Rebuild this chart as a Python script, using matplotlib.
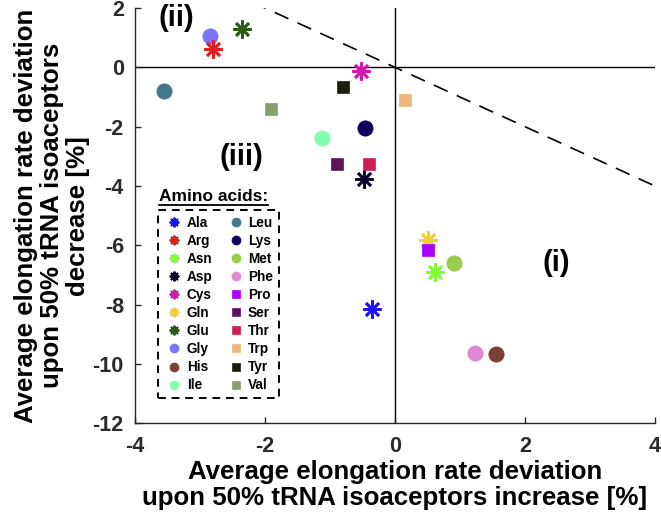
import matplotlib.pyplot as plt
from matplotlib.lines import Line2D

plt.rcParams['font.family'] = ['Liberation Sans', 'DejaVu Sans']
plt.rcParams['font.weight'] = 'bold'
plt.rcParams['axes.unicode_minus'] = False

# -----------------------------
# Data
# -----------------------------
amino = ["Ala", "Arg", "Asn", "Asp", "Cys", "Gln", "Glu", "Gly", "His", "Ile",
         "Leu", "Lys", "Met", "Phe", "Pro", "Ser", "Thr", "Trp", "Tyr", "Val"]
increase_dev = [-0.36, -2.80, 0.62, -0.48, -0.52, 0.50, -2.36, -2.85, 1.55, -1.12,
                -3.56, -0.46, 0.90, 1.23, 0.50, -0.90, -0.40, 0.16, -0.80, -1.90]
decrease_dev = [-8.13, 0.63, -6.89, -3.77, -0.13, -5.82, 1.28, 1.05, -9.66, -2.37,
                -0.80, -2.03, -6.59, -9.61, -6.14, -3.24, -3.24, -1.11, -0.67, -1.41]

xticks = [-4, -2, 0, 2, 4]
yticks = [2, 0, -2, -4, -6, -8, -10, -12]

# -----------------------------
# Styles
# -----------------------------
shapes = ["ast"] * 7 + ["o"] * 7 + ["s"] * 6
colors = ["#1e14f5", "#e01e1e", "#80ff30", "#0a0a28", "#d21aa8", "#f0d030", "#2d5a14",
          "#7b72ff", "#7a4035", "#80ffb0", "#43788a", "#12005e", "#99cc4c", "#dd88d2",
          "#aa00ff", "#5a1558", "#cc2055", "#eab87a", "#1e1e10", "#88a070"]

ASTERISK = (8, 2, 0)


def marker_kw(shape, color, small=False):
    if shape == "ast":
        return dict(marker=ASTERISK, markersize=7 if small else 13, mec=color,
                    mew=1.4 if small else 1.9, color=color)
    if shape == "o":
        return dict(marker="o", markersize=6.5 if small else 11, mfc=color, mec=color,
                    mew=0.5, color=color)
    return dict(marker="s", markersize=5.2 if small else 9, mfc=color, mec=color,
                mew=0.5, color=color)


fig = plt.figure(figsize=(6.61, 5.13), dpi=100)
ax = fig.add_axes([0.2042, 0.1745, 0.7868, 0.8099])

# reference lines
ax.axhline(0, color="black", lw=1, zorder=1)
ax.axvline(0, color="black", lw=1, zorder=1)
ax.plot([-2.2, 4], [2.2, -4], color="black", lw=1.2, dashes=(9, 6), zorder=1)

order_z = {"o": 3, "ast": 4, "s": 5}
for name, x, y, sh, c in zip(amino, increase_dev, decrease_dev, shapes, colors):
    ax.plot([x], [y], linestyle="none", zorder=order_z[sh], **marker_kw(sh, c))

ax.set_xlim(-4, 4)
ax.set_ylim(-12, 2)
ax.set_xticks(xticks)
ax.set_yticks(yticks)
ax.spines["top"].set_visible(False)
ax.spines["right"].set_visible(False)
for s in ["left", "bottom"]:
    ax.spines[s].set_color("#262626")
    ax.spines[s].set_linewidth(1)
ax.tick_params(direction="in", length=4, width=1, colors="#262626", labelsize=15.5,
               labelcolor="#2a2a2a")
ax.tick_params(axis="x", pad=9)
ax.tick_params(axis="y", pad=8)
for lab in ax.get_xticklabels() + ax.get_yticklabels():
    lab.set_fontweight("bold")

ax.set_xlabel("Average elongation rate deviation\nupon 50% tRNA isoaceptors increase [%]",
              fontsize=18.6, fontweight="bold", linespacing=1.1, labelpad=2)
ax.set_ylabel("Average elongation rate deviation\nupon 50% tRNA isoaceptors\ndecrease [%]",
              fontsize=18.6, fontweight="bold", linespacing=1.1, labelpad=2)

# region labels
ax.text(-3.37, 1.66, "(ii)", fontsize=21, fontweight="bold", ha="center", va="center")
ax.text(-2.37, -3.03, "(iii)", fontsize=21, fontweight="bold", ha="center", va="center")
ax.text(2.48, -6.6, "(i)", fontsize=21, fontweight="bold", ha="center", va="center")

# -----------------------------
# Legend
# -----------------------------
handles = [Line2D([], [], linestyle="none", **marker_kw(sh, c, small=True))
           for sh, c in zip(shapes, colors)]
leg = ax.legend(handles, amino, ncol=2, loc="upper left", bbox_to_anchor=(0.044, 0.514),
                borderaxespad=0, fancybox=False, edgecolor="black", framealpha=1,
                prop={"size": 9.8, "weight": "bold"}, labelspacing=0.30,
                handlelength=1.6, handletextpad=0.1, columnspacing=0.9,
                borderpad=0.42)
leg.get_frame().set_linestyle((0, (4, 3)))
leg.get_frame().set_linewidth(1.4)

title = ax.text(0.046, 0.528, "Amino acids:", transform=ax.transAxes, fontsize=12.5,
                fontweight="bold", ha="left", va="bottom")
fig.canvas.draw()
bb = title.get_window_extent()
fig.add_artist(Line2D([bb.x0 / fig.dpi / 6.61, bb.x1 / fig.dpi / 6.61],
                      [(bb.y0 - 1) / fig.dpi / 5.13] * 2,
                      transform=fig.transFigure, color="black", lw=1.3))

fig.savefig("out.png", dpi=100)
